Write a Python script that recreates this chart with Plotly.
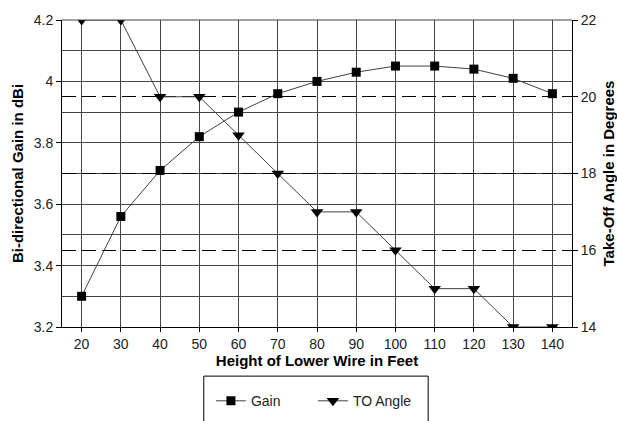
import plotly.graph_objects as go

heights = ["20", "30", "40", "50", "60", "70", "80", "90", "100", "110", "120", "130", "140"]
gain = [3.30, 3.56, 3.71, 3.82, 3.90, 3.96, 4.00, 4.03, 4.05, 4.05, 4.04, 4.01, 3.96]
to_angle = [22, 22, 20, 20, 19, 18, 17, 17, 16, 15, 15, 14, 14]

FONT = "Liberation Sans, Arial, sans-serif"

fig = go.Figure()
fig.add_trace(go.Scatter(
    x=heights, y=gain, name="Gain", mode="lines+markers",
    line=dict(color="#404040", width=1),
    marker=dict(symbol="square", size=9, color="black"),
    yaxis="y",
))
fig.add_trace(go.Scatter(
    x=heights, y=to_angle, name="TO Angle", mode="lines+markers",
    line=dict(color="#404040", width=1),
    marker=dict(symbol="triangle-down", size=11, color="black"),
    yaxis="y2",
))

fig.update_layout(
    width=617, height=421,
    margin=dict(l=62, r=45, t=20, b=94, autoexpand=False),
    paper_bgcolor="white", plot_bgcolor="white",
    font=dict(family=FONT, size=13, color="#222"),
    showlegend=True,
    legend=dict(orientation="h", x=0.492, xanchor="center",
                yref="container", y=0.047, yanchor="middle",
                bgcolor="rgba(0,0,0,0)", borderwidth=0,
                font=dict(family=FONT, size=14, color="#222"),
                entrywidth=57),
    xaxis=dict(
        type="category", range=[-0.5, 12.5], automargin=False,
        showline=True, linecolor="black", linewidth=1, mirror=False,
        showgrid=True, gridcolor="#444", gridwidth=1,
        ticks="outside", ticklen=4, tickcolor="black",
        tickfont=dict(family=FONT, size=14, color="#222"),
        title=dict(text="<b>Height of Lower Wire in Feet</b>", font=dict(family=FONT, size=15, color="black"), standoff=4),
        zeroline=False,
    ),
    yaxis=dict(
        range=[3.2, 4.2], automargin=False,
        tickvals=[3.2, 3.4, 3.6, 3.8, 4.0, 4.2],
        ticktext=["3.2", "3.4", "3.6", "3.8", "4", "4.2"],
        showline=True, linecolor="black", linewidth=1,
        showgrid=True, gridcolor="#444", gridwidth=1,
        minor=dict(dtick=0.1, tick0=3.2, showgrid=True, gridcolor="#444", gridwidth=1),
        ticks="outside", ticklen=5, tickcolor="black",
        tickfont=dict(family=FONT, size=14, color="#222"),
        title=dict(text="<b>Bi-directional Gain in dBi</b>", font=dict(family=FONT, size=15, color="black"), standoff=6),
        zeroline=False,
    ),
    yaxis2=dict(
        range=[14, 22], dtick=2, tick0=14, automargin=False,
        overlaying="y", side="right",
        showline=True, linecolor="black", linewidth=1,
        showgrid=True, gridcolor="black", gridwidth=1, griddash="14px,6px",
        ticks="outside", ticklen=5, tickcolor="black",
        tickfont=dict(family=FONT, size=14, color="#222"),
        title=dict(text="<b>Take-Off Angle in Degrees</b>", font=dict(family=FONT, size=15, color="black"), standoff=8),
        zeroline=False,
    ),
    shapes=[
        dict(type="line", xref="paper", yref="paper", x0=0, x1=1, y0=1, y1=1,
             line=dict(color="#444", width=1)),
        dict(type="rect", xref="paper", yref="paper", x0=0.278, x1=0.718, y0=-0.160, y1=-0.6,
             line=dict(color="black", width=1), fillcolor="rgba(0,0,0,0)", layer="above"),
    ],
)

fig.write_html("out.html")
